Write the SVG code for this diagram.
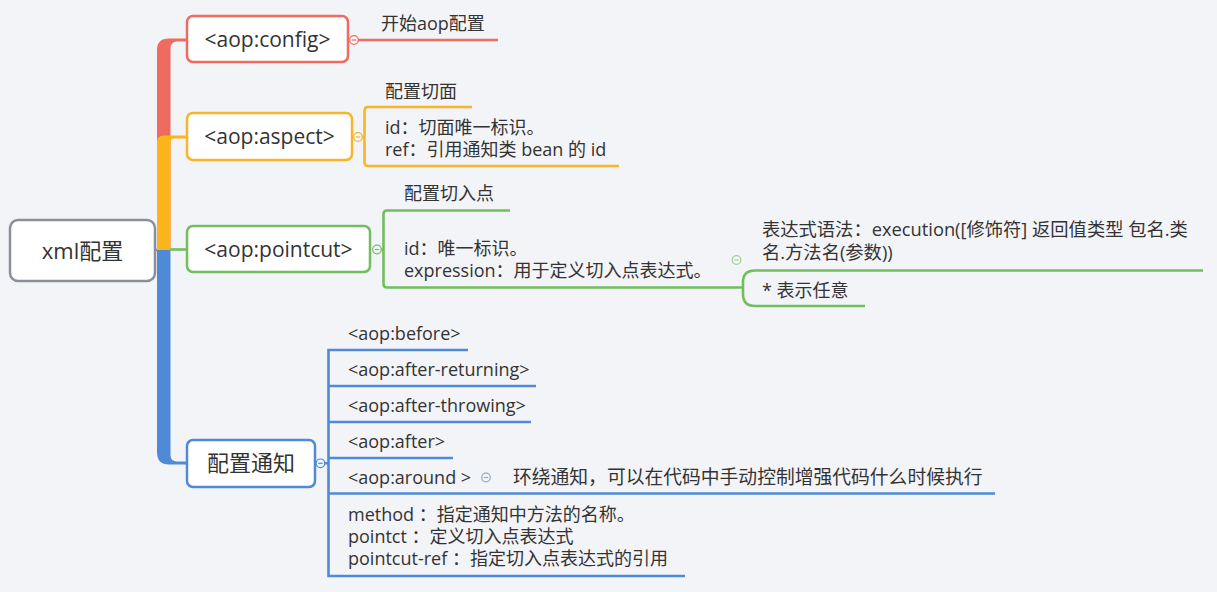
<svg xmlns="http://www.w3.org/2000/svg" width="1217" height="592" viewBox="0 0 1217 592">
<style>
text{font-family:"Open Sans","Noto Sans CJK SC",sans-serif;fill:#333;}
.t18{font-size:18px;}
.t21{font-size:21px;text-anchor:middle;}
.t22{font-size:22px;text-anchor:middle;}
.box{fill:#fff;stroke-width:2.5;}
.ln{fill:none;stroke-width:2.6;}
.cc circle{fill:#f5f6fa;stroke-width:1.2;}
.cc path{stroke-width:1.2;}
</style>
<defs>
<g id="cc" class="cc"><circle r="4.3"/><path d="M-2.2,0H2.2"/></g>
</defs>
<rect width="1217" height="592" fill="#f3f4f8"/>

<g id="connectors">
<path d="M157,250 V50 Q157,38.5 169,38.5 H188 V41.5 H177 Q170.5,41.5 170.5,49 V250 Z" fill="#ef6b5f"/>
<path d="M157,250 V142 Q157,135.5 164,135.5 H188 V138.5 H174 Q170.5,138.5 170.5,143 V250 Z" fill="#fbb41a"/>
<path d="M157,250 V452 Q157,464.5 169,464.5 H188 V461.5 H177 Q170.5,461.5 170.5,455 V250 Z" fill="#4f8ad6"/>
<path d="M155,250 H157" class="ln" stroke="#8b8f99"/>
<path d="M170,249.5 H188" class="ln" stroke="#72be5f"/>
<path d="M358,40 H498" class="ln" stroke="#ef6b5f"/>
<path d="M362,137 H365 M472,107 H368 Q364.5,107 364.5,111 V162 Q364.5,166 368,166 H619" class="ln" stroke="#f7b52b"/>
<path d="M381,249.5 H383.5 M510,210.5 H387 Q383.5,210.5 383.5,214 V284 Q383.5,287.5 387,287.5 H743" class="ln" stroke="#72be5f"/>
<path d="M1203,270.5 H755 Q743,270.5 743,282 V294 Q743,306 755,306 H865" class="ln" stroke="#72be5f"/>
<path d="M324.5,463.3 H328.5 M468,350 H328.5 V576 H685 M328.5,386 H536 M328.5,422 H531 M328.5,458 H453 M328.5,493.5 H995" class="ln" stroke="#4f8ad6"/>
</g>

<g id="root">
<rect x="10" y="220" width="145" height="61" rx="8" class="box" stroke="#8b8f99"/>
<text x="82.5" y="258.5" class="t22">xml配置</text>
</g>

<g id="aop-config">
<rect x="187" y="16" width="161" height="46" rx="6" class="box" stroke="#ef6b5f"/>
<text x="267.5" y="46.5" class="t21">&lt;aop:config&gt;</text>
<use href="#cc" x="354" y="40" stroke="#ef6b5f"/>
</g>
<g id="config-note">
<text x="381" y="30" class="t18">开始aop配置</text>
</g>

<g id="aop-aspect">
<rect x="187" y="113" width="165" height="47" rx="6" class="box" stroke="#f7b52b"/>
<text x="269.5" y="144" class="t21">&lt;aop:aspect&gt;</text>
<use href="#cc" x="358" y="137" stroke="#f7b52b"/>
</g>
<g id="aspect-label"><text x="385" y="98" class="t18">配置切面</text></g>
<g id="aspect-attrs">
<text x="385" y="134" class="t18">id：切面唯一标识。</text>
<text x="385" y="156" class="t18">ref：引用通知类 bean 的 id</text>
</g>

<g id="aop-pointcut">
<rect x="187" y="226" width="183" height="46" rx="6" class="box" stroke="#72be5f"/>
<text x="278.5" y="256.5" class="t21">&lt;aop:pointcut&gt;</text>
<use href="#cc" x="377" y="249.5" stroke="#72be5f"/>
</g>
<g id="pointcut-label"><text x="404" y="200" class="t18">配置切入点</text></g>
<g id="pointcut-attrs">
<text x="404" y="255" class="t18">id：唯一标识。</text>
<text x="404" y="277" class="t18">expression：用于定义切入点表达式。</text>
<use href="#cc" x="736.5" y="260" stroke="#9fd08f"/>
</g>
<g id="expr-syntax">
<text x="762" y="236" class="t18" style="font-size:18.3px">表达式语法：execution([修饰符] 返回值类型 包名.类</text>
<text x="762" y="259" class="t18" style="font-size:18.3px">名.方法名(参数))</text>
</g>
<g id="expr-any"><text x="762" y="297" class="t18">* 表示任意</text></g>

<g id="advice">
<rect x="187" y="440" width="128" height="47" rx="6" class="box" stroke="#4f8ad6"/>
<text x="251" y="471" class="t22">配置通知</text>
<use href="#cc" x="320.5" y="463.3" stroke="#4f8ad6"/>
</g>
<g id="before"><text x="348" y="340" class="t18">&lt;aop:before&gt;</text></g>
<g id="after-returning"><text x="348" y="376" class="t18">&lt;aop:after-returning&gt;</text></g>
<g id="after-throwing"><text x="348" y="412" class="t18">&lt;aop:after-throwing&gt;</text></g>
<g id="after"><text x="348" y="448" class="t18">&lt;aop:after&gt;</text></g>
<g id="around">
<text x="348" y="484" class="t18">&lt;aop:around &gt;</text>
<use href="#cc" x="486" y="477.5" stroke="#8fa9c9"/>
</g>
<g id="around-note"><text x="513" y="484" class="t18" style="font-size:18.8px">环绕通知，可以在代码中手动控制增强代码什么时候执行</text></g>
<g id="advice-attrs">
<text x="348" y="521" class="t18">method ：指定通知中方法的名称。</text>
<text x="348" y="543" class="t18">pointct ：定义切入点表达式</text>
<text x="348" y="565" class="t18">pointcut-ref ：指定切入点表达式的引用</text>
</g>
</svg>
